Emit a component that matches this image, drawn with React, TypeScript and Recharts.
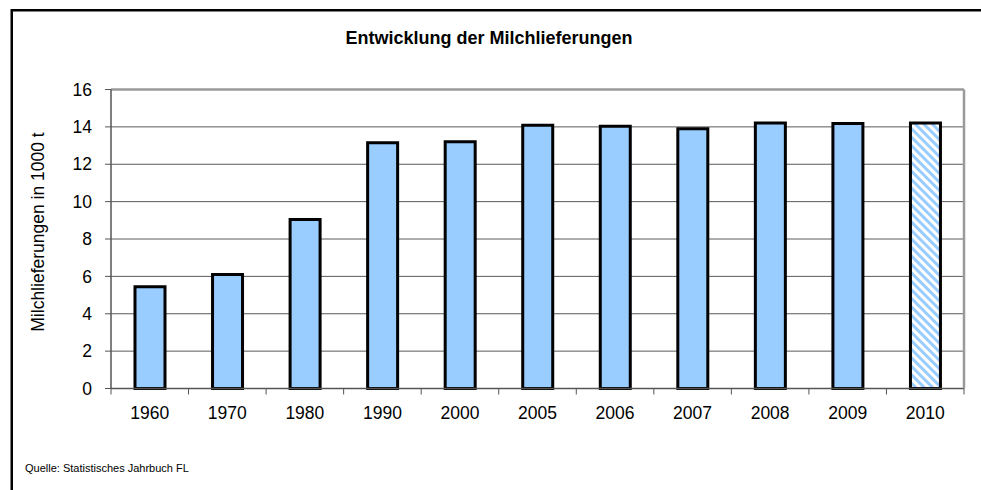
import React from 'react';
import { BarChart, Bar, XAxis, YAxis, CartesianGrid, ReferenceLine, Cell } from 'recharts';

const years = ['1960', '1970', '1980', '1990', '2000', '2005', '2006', '2007', '2008', '2009', '2010'];
const deliveries = [5.45, 6.1, 9.05, 13.15, 13.2, 14.09, 14.04, 13.9, 14.21, 14.18, 14.21];
const provisional = [false, false, false, false, false, false, false, false, false, false, true];
const yTicks = [0, 2, 4, 6, 8, 10, 12, 14, 16];

const title = 'Entwicklung der Milchlieferungen';
const yLabel = 'Milchlieferungen in 1000 t';
const source = 'Quelle: Statistisches Jahrbuch FL';

const data = years.map((year, i) => ({ year, value: deliveries[i] }));

const W = 981;
const H = 490;
const PLOT_LEFT = 111;
const PLOT_RIGHT = 964;
const PLOT_TOP = 89.5;
const PLOT_BOTTOM = 388.5;
const XAXIS_H = 40;
const BAND = (PLOT_RIGHT - PLOT_LEFT) / years.length;
const FONT = '"Liberation Sans", Arial, sans-serif';
const BAR_FILL = '#99CCFF';

const XTick = (props: any) => {
  const { x, y, payload, index } = props;
  return (
    <g>
      <line x1={x - BAND / 2} x2={x - BAND / 2} y1={y} y2={y + 6} stroke="#555" strokeWidth={1} />
      {index === years.length - 1 && (
        <line x1={x + BAND / 2} x2={x + BAND / 2} y1={y} y2={y + 6} stroke="#555" strokeWidth={1} />
      )}
      <text x={x} y={y + 30.5} textAnchor="middle" fontSize={17.5} fill="#000" fontFamily={FONT}>
        {payload.value}
      </text>
    </g>
  );
};

export default function App() {
  return (
    <div style={{ position: 'absolute', left: 0, top: 0, width: W, height: H, overflow: 'hidden', background: '#fff' }}>
      <div style={{ position: 'absolute', left: 0, top: 0 }}>
        <BarChart
          width={W}
          height={H}
          data={data}
          margin={{ top: PLOT_TOP, right: 0, left: 0, bottom: H - PLOT_BOTTOM - XAXIS_H }}
          barSize={30}
        >
          <defs>
            <pattern id="hatch" width="6" height="6" patternUnits="userSpaceOnUse" patternTransform="rotate(-45)">
              <rect x="0" y="0" width="6" height="6" fill="#ffffff" />
              <rect x="0" y="0" width="3" height="6" fill={BAR_FILL} />
            </pattern>
          </defs>
          <CartesianGrid yAxisId="l" vertical={false} stroke="#5a5a5a" strokeWidth={1} />
          <XAxis
            dataKey="year"
            interval={0}
            tickSize={0}
            tickMargin={0}
            tickLine={false}
            height={XAXIS_H}
            axisLine={{ stroke: '#555', strokeWidth: 1.5 }}
            tick={<XTick />}
          />
          <YAxis
            yAxisId="l"
            domain={[0, 16]}
            ticks={yTicks}
            interval={0}
            width={PLOT_LEFT}
            tickSize={6}
            tickMargin={13}
            tickLine={{ stroke: '#555' }}
            axisLine={{ stroke: '#555', strokeWidth: 1.5 }}
            tick={{ fontSize: 17.5, fill: '#000', fontFamily: FONT }}
          />
          <YAxis
            yAxisId="r"
            orientation="right"
            domain={[0, 16]}
            width={W - PLOT_RIGHT}
            tick={false}
            tickLine={false}
            axisLine={{ stroke: '#9a9a9a', strokeWidth: 2.5 }}
          />
          <ReferenceLine yAxisId="l" y={16} stroke="#9a9a9a" strokeWidth={2.5} />
          <Bar yAxisId="l" dataKey="value" stroke="#000" strokeWidth={3} isAnimationActive={false}>
            {data.map((d, i) => (
              <Cell key={d.year} fill={provisional[i] ? 'url(#hatch)' : BAR_FILL} />
            ))}
          </Bar>
        </BarChart>
      </div>
      <svg
        width={W}
        height={H}
        style={{ position: 'absolute', left: 0, top: 0, pointerEvents: 'none' }}
      >
        <path d={`M 11.75 ${H + 5} L 11.75 10.25 L ${W + 5} 10.25`} fill="none" stroke="#000" strokeWidth={2.5} />
        <text x={489} y={43.5} textAnchor="middle" fontSize={18} fontWeight="bold" fill="#000" fontFamily={FONT}>
          {title}
        </text>
        <text
          x={0}
          y={0}
          transform="translate(38,232) rotate(-90)"
          textAnchor="middle"
          dominantBaseline="central"
          fontSize={17.5}
          fill="#000"
          fontFamily={FONT}
        >
          {yLabel}
        </text>
        <text x={25} y={472} fontSize={11} fill="#000" fontFamily={FONT}>
          {source}
        </text>
      </svg>
    </div>
  );
}
